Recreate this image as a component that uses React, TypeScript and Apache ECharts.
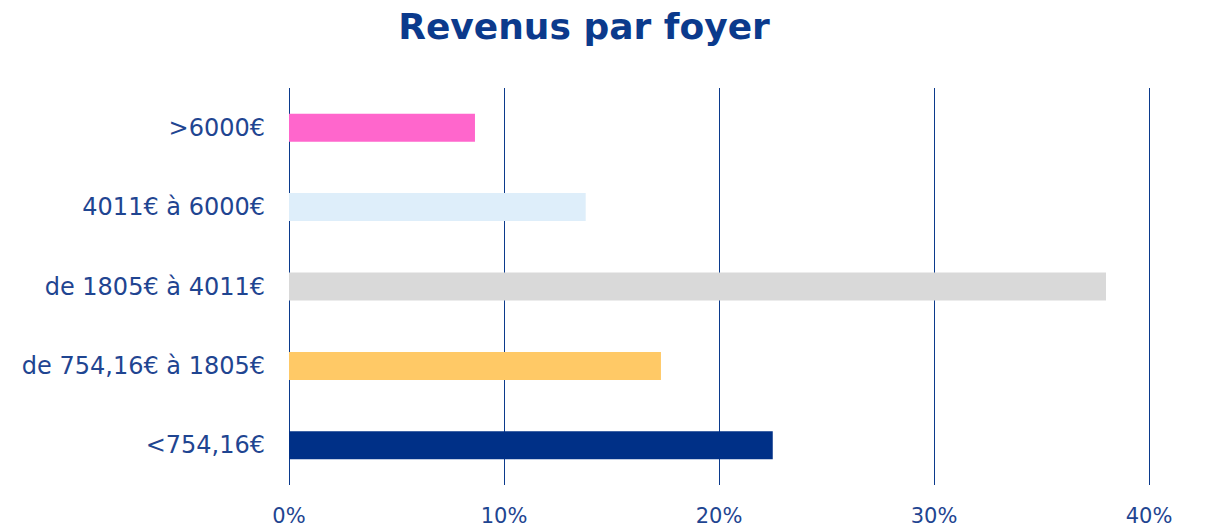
import React, { useEffect, useRef } from "react";
import * as echarts from "echarts";

const categories = ["<754,16€", "de 754,16€ à 1805€", "de 1805€ à 4011€", "4011€ à 6000€", ">6000€"];
const values = [22.5, 17.3, 38.0, 13.8, 8.65];
const barColors = ["#003087", "#ffc966", "#d9d9d9", "#deeefa", "#ff66cc"];
const xTicks = [0, 10, 20, 30, 40];

export default function App() {
  const ref = useRef<HTMLDivElement>(null);
  useEffect(() => {
    const chart = echarts.init(ref.current!, null, { renderer: "svg" });
    const font = "'DejaVu Sans', sans-serif";
    chart.setOption({
      animation: false,
      title: {
        text: "Revenus par foyer",
        left: 579,
        textAlign: "center",
        top: 3,
        textStyle: { color: "#0b3a8c", fontSize: 36, fontWeight: "bold", fontFamily: font },
      },
      grid: { left: 289, right: 60, top: 88, bottom: 46, containLabel: false },
      xAxis: {
        type: "value",
        min: xTicks[0],
        max: xTicks[xTicks.length - 1],
        interval: 10,
        axisLine: { show: false },
        axisTick: { show: false },
        splitLine: { show: true, lineStyle: { color: "#0b3a8c", width: 1 } },
        axisLabel: {
          color: "#1f4591",
          fontSize: 21,
          fontFamily: font,
          margin: 20,
          formatter: (v: number) => `${v}%`,
        },
      },
      yAxis: {
        type: "category",
        data: categories,
        axisLine: { show: false },
        axisTick: { show: false },
        axisLabel: { color: "#1f4591", fontSize: 24, fontFamily: font, margin: 24 },
      },
      series: [
        {
          type: "bar",
          data: values.map((v, i) => ({ value: v, itemStyle: { color: barColors[i] } })),
          barWidth: 28,
        },
      ],
    });
    return () => chart.dispose();
  }, []);
  return <div ref={ref} style={{ width: 1209, height: 531, position: "absolute", left: 0, top: 0 }} />;
}
